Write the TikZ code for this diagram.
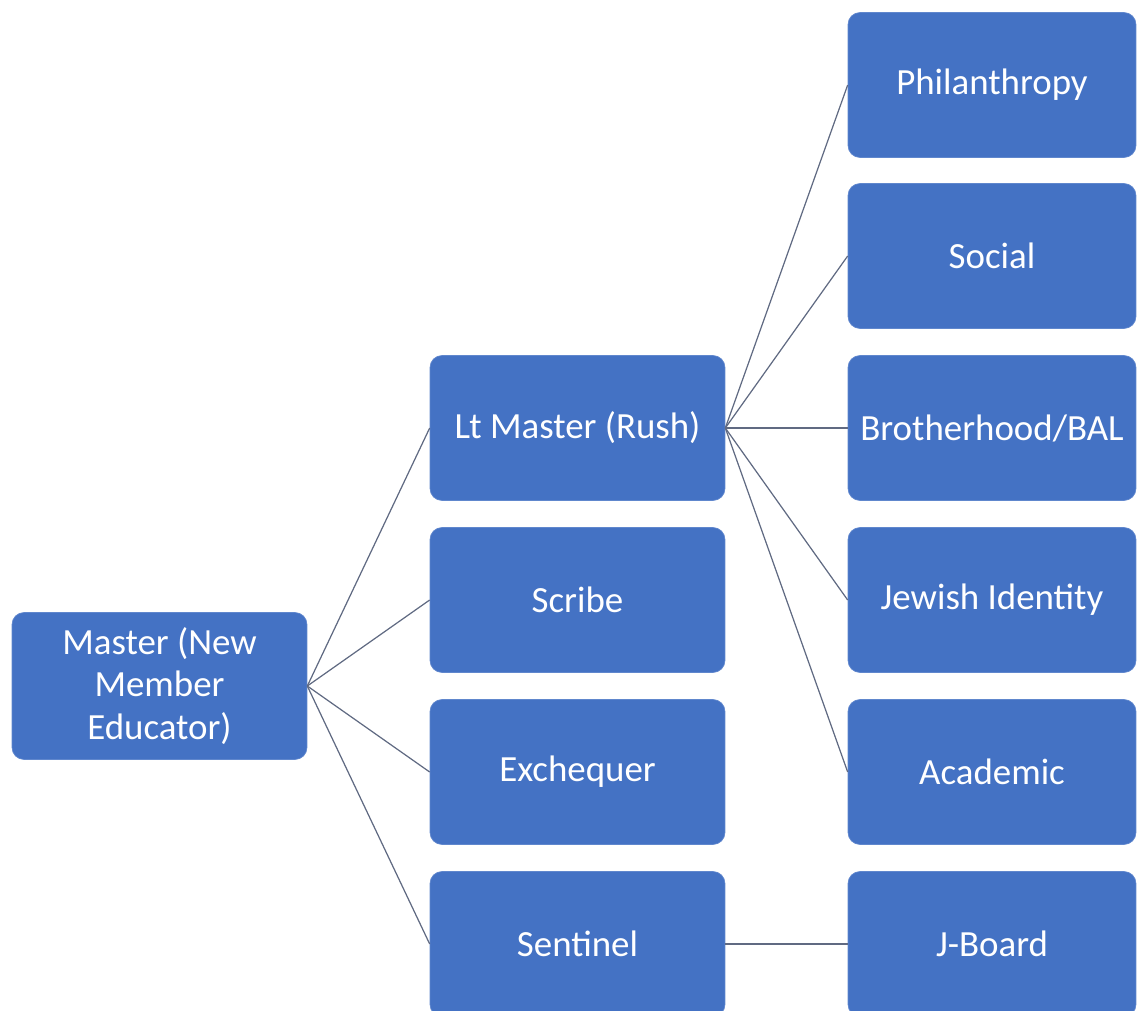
\documentclass[tikz,border=0pt]{standalone}
\usepackage{fontspec}
\setmainfont{Carlito}
\definecolor{boxblue}{RGB}{68,114,196}
\definecolor{linkgray}{RGB}{96,106,130}
\tikzset{
    rolebox/.style={draw=boxblue!85!white, fill=boxblue, rounded corners=0.24cm,
        text=white, align=center, font=\fontsize{21}{24}\selectfont,
        minimum width=5.9cm, minimum height=2.9cm, inner sep=0pt},
    sidebox/.style={rolebox, minimum width=5.76cm},
    link/.style={draw=linkgray, line width=0.7pt}
}
\begin{document}
\begin{tikzpicture}[x=0.02cm, y=-0.02cm]
    \useasboundingbox (0,0) rectangle (1137,1011);

    % left: the master
    \node[rolebox, minimum height=2.94cm] (master) at (159.5,686) {Master (New\\Member\\Educator)};

    % middle column
    \node[rolebox] (ltmaster)  at (577.5,428) {Lt Master (Rush)};
    \node[rolebox] (scribe)    at (577.5,600) {Scribe};
    \node[rolebox] (exchequer) at (577.5,772) {Exchequer};
    \node[rolebox] (sentinel)  at (577.5,944) {Sentinel};

    % right column
    \node[sidebox] (philanthropy) at (992,85)  {Philanthropy};
    \node[sidebox] (social)       at (992,256) {Social};
    \node[sidebox] (brotherhood)  at (992,428) {Brotherhood/BAL};
    \node[sidebox] (jewish)       at (992,600) {Jewish Identity};
    \node[sidebox] (academic)     at (992,772) {Academic};
    \node[sidebox] (jboard)       at (992,944) {J-Board};

    \foreach \n in {ltmaster,scribe,exchequer,sentinel}
        \draw[link] (master.east) -- (\n.west);
    \foreach \n in {philanthropy,social,brotherhood,jewish,academic}
        \draw[link] (ltmaster.east) -- (\n.west);
    \draw[link] (sentinel) -- (jboard);
\end{tikzpicture}
\end{document}
